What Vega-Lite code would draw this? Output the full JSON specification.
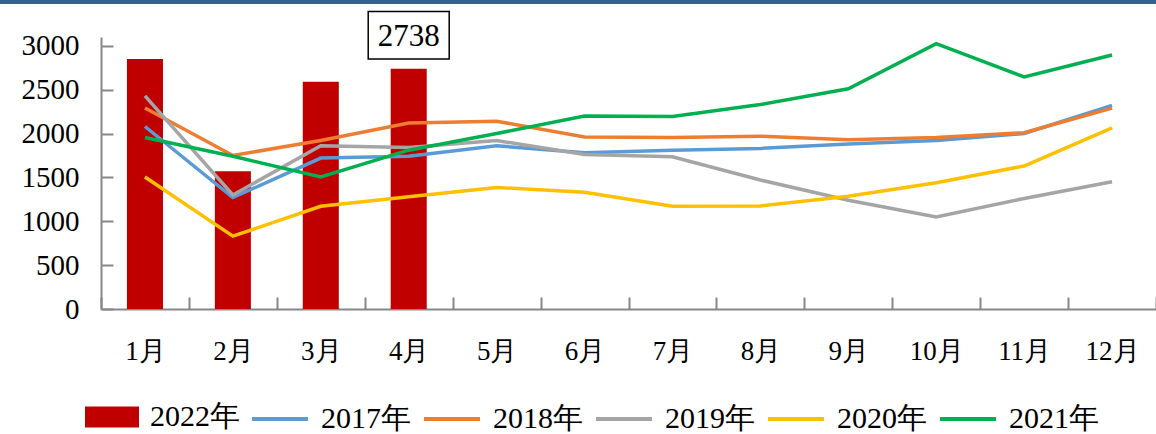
{
  "$schema": "https://vega.github.io/schema/vega-lite/v6.json",
  "width": 1055,
  "height": 272,
  "autosize": {"type": "none"},
  "padding": {"left": 101, "top": 37, "right": 0, "bottom": 125},
  "background": "white",
  "config": {
    "view": {"stroke": null},
    "font": "Liberation Serif",
    "axis": {"domainColor": "#878787", "domainWidth": 2, "tickColor": "#878787", "tickWidth": 2, "labelColor": "black", "labelFont": "Liberation Serif", "grid": false, "title": null},
    "legend": {"labelFont": "Liberation Serif", "labelColor": "black"}
  },
  "data": {"values": [
    {"month": "1月", "series": "2022年", "value": 2850},
    {"month": "2月", "series": "2022年", "value": 1570},
    {"month": "3月", "series": "2022年", "value": 2590},
    {"month": "4月", "series": "2022年", "value": 2738},
    {"month": "1月", "series": "2017年", "value": 2080},
    {"month": "2月", "series": "2017年", "value": 1270},
    {"month": "3月", "series": "2017年", "value": 1720},
    {"month": "4月", "series": "2017年", "value": 1740},
    {"month": "5月", "series": "2017年", "value": 1860},
    {"month": "6月", "series": "2017年", "value": 1780},
    {"month": "7月", "series": "2017年", "value": 1810},
    {"month": "8月", "series": "2017年", "value": 1830},
    {"month": "9月", "series": "2017年", "value": 1880},
    {"month": "10月", "series": "2017年", "value": 1920},
    {"month": "11月", "series": "2017年", "value": 2000},
    {"month": "12月", "series": "2017年", "value": 2320},
    {"month": "1月", "series": "2018年", "value": 2290},
    {"month": "2月", "series": "2018年", "value": 1750},
    {"month": "3月", "series": "2018年", "value": 1920},
    {"month": "4月", "series": "2018年", "value": 2120},
    {"month": "5月", "series": "2018年", "value": 2140},
    {"month": "6月", "series": "2018年", "value": 1960},
    {"month": "7月", "series": "2018年", "value": 1955},
    {"month": "8月", "series": "2018年", "value": 1970},
    {"month": "9月", "series": "2018年", "value": 1930},
    {"month": "10月", "series": "2018年", "value": 1955},
    {"month": "11月", "series": "2018年", "value": 2010},
    {"month": "12月", "series": "2018年", "value": 2290},
    {"month": "1月", "series": "2019年", "value": 2430},
    {"month": "2月", "series": "2019年", "value": 1300},
    {"month": "3月", "series": "2019年", "value": 1860},
    {"month": "4月", "series": "2019年", "value": 1840},
    {"month": "5月", "series": "2019年", "value": 1920},
    {"month": "6月", "series": "2019年", "value": 1760},
    {"month": "7月", "series": "2019年", "value": 1735},
    {"month": "8月", "series": "2019年", "value": 1470},
    {"month": "9月", "series": "2019年", "value": 1240},
    {"month": "10月", "series": "2019年", "value": 1050},
    {"month": "11月", "series": "2019年", "value": 1260},
    {"month": "12月", "series": "2019年", "value": 1450},
    {"month": "1月", "series": "2020年", "value": 1505},
    {"month": "2月", "series": "2020年", "value": 830},
    {"month": "3月", "series": "2020年", "value": 1170},
    {"month": "4月", "series": "2020年", "value": 1280},
    {"month": "5月", "series": "2020年", "value": 1385},
    {"month": "6月", "series": "2020年", "value": 1330},
    {"month": "7月", "series": "2020年", "value": 1170},
    {"month": "8月", "series": "2020年", "value": 1175},
    {"month": "9月", "series": "2020年", "value": 1285},
    {"month": "10月", "series": "2020年", "value": 1440},
    {"month": "11月", "series": "2020年", "value": 1630},
    {"month": "12月", "series": "2020年", "value": 2065},
    {"month": "1月", "series": "2021年", "value": 1955},
    {"month": "2月", "series": "2021年", "value": 1740},
    {"month": "3月", "series": "2021年", "value": 1505},
    {"month": "4月", "series": "2021年", "value": 1810},
    {"month": "5月", "series": "2021年", "value": 2000},
    {"month": "6月", "series": "2021年", "value": 2200},
    {"month": "7月", "series": "2021年", "value": 2195},
    {"month": "8月", "series": "2021年", "value": 2330},
    {"month": "9月", "series": "2021年", "value": 2510},
    {"month": "10月", "series": "2021年", "value": 3025},
    {"month": "11月", "series": "2021年", "value": 2645},
    {"month": "12月", "series": "2021年", "value": 2895}
  ]},
  "layer": [
    {
      "encoding": {
        "x": {
          "field": "month", "type": "ordinal",
          "sort": ["1月","2月","3月","4月","5月","6月","7月","8月","9月","10月","11月","12月"],
          "scale": {"domain": ["1月","2月","3月","4月","5月","6月","7月","8月","9月","10月","11月","12月"], "paddingInner": 0, "paddingOuter": 0},
          "axis": {"title": null, "labelAngle": 0, "tickBand": "extent", "tickSize": -12, "labelPadding": 54, "labelFont": "Liberation Serif", "labelFontSize": 27, "labelBaseline": "middle"}
        }
      },
      "layer": [
        {
          "transform": [{"filter": "datum.series === '2022年'"}],
          "mark": {"type": "bar", "width": {"band": 0.41}},
          "encoding": {
            "y": {"field": "value", "type": "quantitative", "scale": {"domain": [0, 3100], "nice": false},
                  "axis": {"title": null, "values": [0, 500, 1000, 1500, 2000, 2500, 3000], "format": "d", "tickSize": -12, "labelPadding": 34, "labelFont": "Liberation Serif", "labelFontSize": 29}},
            "color": {"field": "series", "type": "nominal",
                      "scale": {"domain": ["2022年"], "range": ["#C00000"]},
                      "legend": {"title": null, "orient": "none", "legendX": -16, "legendY": 353, "symbolType": "M-1,-0.39H1V0.39H-1Z", "symbolSize": 2916, "symbolStrokeWidth": 0, "labelFont": "Liberation Serif", "labelFontSize": 30, "labelOffset": 11, "padding": 0}}
          }
        },
        {
          "transform": [{"filter": "datum.series === '2022年' && datum.month === '4月'"}],
          "mark": {"type": "bar", "width": 81, "fill": "white", "stroke": "black", "strokeWidth": 1.5},
          "encoding": {
            "y": {"datum": 3390, "type": "quantitative", "title": null},
            "y2": {"datum": 2850}
          }
        },
        {
          "transform": [{"filter": "datum.series === '2022年' && datum.month === '4月'"}],
          "mark": {"type": "text", "fontSize": 31, "font": "Liberation Serif", "baseline": "alphabetic", "color": "black"},
          "encoding": {
            "y": {"datum": 3000, "type": "quantitative", "title": null},
            "text": {"field": "value", "type": "quantitative"}
          }
        },
        {
          "transform": [{"filter": "datum.series !== '2022年'"}],
          "mark": {"type": "line", "strokeWidth": 3.5},
          "encoding": {
            "y": {"field": "value", "type": "quantitative", "title": null},
            "color": {"field": "series", "type": "nominal",
                      "scale": {"domain": ["2017年","2018年","2019年","2020年","2021年"], "range": ["#5B9BD5","#ED7D31","#A5A5A5","#FFC000","#00B050"]},
                      "legend": {"title": null, "orient": "none", "legendX": 149, "legendY": 352, "direction": "horizontal", "columns": 5, "symbolType": "stroke", "symbolSize": 3136, "symbolStrokeWidth": 4, "labelFont": "Liberation Serif", "labelFontSize": 30, "labelOffset": 11, "columnPadding": 5, "padding": 0}}
          }
        }
      ],
      "resolve": {"scale": {"color": "independent"}}
    },
    {
      "data": {"values": [{"edge": "top"}]},
      "mark": {"type": "rule", "strokeWidth": 4, "color": "#35608F"},
      "encoding": {
        "x": {"datum": -0.1, "type": "quantitative", "scale": {"domain": [0, 1]}, "axis": null},
        "x2": {"datum": 1.1},
        "y": {"datum": 3500, "type": "quantitative", "title": null}
      }
    }
  ],
  "resolve": {"scale": {"x": "independent"}}
}
